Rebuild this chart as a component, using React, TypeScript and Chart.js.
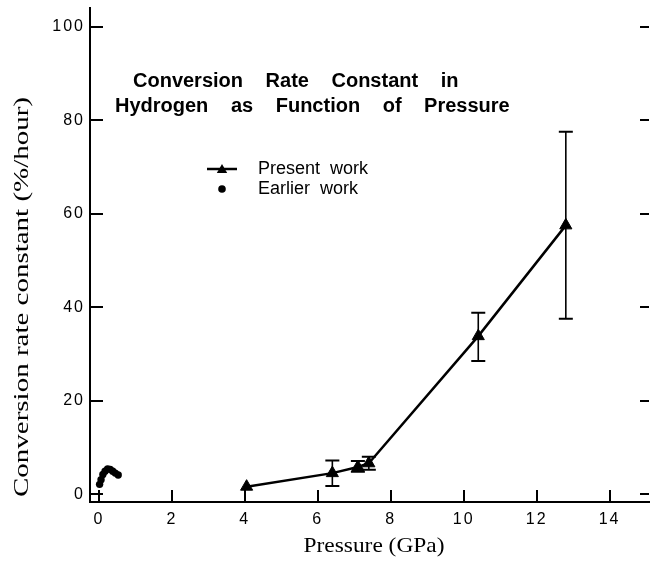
import { useEffect, useRef } from 'react';
import { Chart, registerables } from 'chart.js';

Chart.register(...registerables);

// ---- data ----
const presentPressure = [4.05, 6.4, 7.1, 7.4, 10.4, 12.8];
const presentRate = [1.6, 4.5, 5.8, 6.6, 33.8, 57.5];
const presentErrLow: (number | null)[] = [null, 1.75, 4.8, 5.2, 28.5, 37.5];
const presentErrHigh: (number | null)[] = [null, 7.2, 7.1, 8.0, 38.8, 77.5];

const earlierPressure = [0.02, 0.06, 0.11, 0.17, 0.24, 0.31, 0.38, 0.45, 0.53];
const earlierRate = [2.1, 3.1, 4.2, 4.9, 5.4, 5.3, 4.9, 4.5, 4.1];

const xTicks = [0, 2, 4, 6, 8, 10, 12, 14];
const yTicks = [0, 20, 40, 60, 80, 100];

const titleLines = ['Conversion Rate Constant in', 'Hydrogen as Function of Pressure'];
const seriesNames = ['Present work', 'Earlier work'];
const xTitle = 'Pressure (GPa)';
const yTitle = 'Conversion rate constant (%/hour)';

const SANS = '"Liberation Sans", Arial, sans-serif';
const SERIF = '"Liberation Serif", "Times New Roman", serif';

function triangle(ctx: CanvasRenderingContext2D, x: number, y: number, r: number) {
  ctx.beginPath();
  for (let k = 0; k < 3; k++) {
    const a = (k * 2 * Math.PI) / 3;
    const px = x + Math.sin(a) * r;
    const py = y - Math.cos(a) * r;
    if (k === 0) ctx.moveTo(px, py);
    else ctx.lineTo(px, py);
  }
  ctx.closePath();
  ctx.fill();
}

const annotate = {
  id: 'annotate',
  beforeDraw(chart: any) {
    (chart.ctx as any).letterSpacing = '2px';
  },
  afterDatasetsDraw(chart: any) {
    const { ctx, scales } = chart;
    const x = scales.x;
    const y = scales.y;
    ctx.save();
    ctx.strokeStyle = '#000';
    presentPressure.forEach((p, i) => {
      const lo = presentErrLow[i];
      const hi = presentErrHigh[i];
      if (lo == null || hi == null) return;
      const px = x.getPixelForValue(p);
      const yl = y.getPixelForValue(lo);
      const yh = y.getPixelForValue(hi);
      ctx.lineWidth = 1.6;
      ctx.beginPath();
      ctx.moveTo(px, yl);
      ctx.lineTo(px, yh);
      ctx.stroke();
      ctx.lineWidth = 2;
      ctx.beginPath();
      ctx.moveTo(px - 7, yl);
      ctx.lineTo(px + 7, yl);
      ctx.moveTo(px - 7, yh);
      ctx.lineTo(px + 7, yh);
      ctx.stroke();
    });
    ctx.restore();
  },
  afterDraw(chart: any) {
    const { ctx, scales, chartArea } = chart;
    const x = scales.x;
    const y = scales.y;
    const c = ctx as any;
    ctx.save();
    c.letterSpacing = '0px';
    ctx.strokeStyle = '#000';
    ctx.fillStyle = '#000';
    ctx.lineWidth = 2;
    // inward ticks
    ctx.beginPath();
    xTicks.forEach((v) => {
      const px = Math.round(x.getPixelForValue(v));
      ctx.moveTo(px, chartArea.bottom);
      ctx.lineTo(px, chartArea.bottom - 12);
    });
    yTicks.forEach((v) => {
      const py = Math.round(y.getPixelForValue(v));
      ctx.moveTo(chartArea.left, py);
      ctx.lineTo(chartArea.left + 13, py);
      ctx.moveTo(chartArea.right - 9, py);
      ctx.lineTo(chartArea.right, py);
    });
    ctx.stroke();

    // main title
    ctx.font = `bold 20px ${SANS}`;
    c.wordSpacing = '17px';
    ctx.textBaseline = 'alphabetic';
    ctx.textAlign = 'left';
    ctx.fillText(titleLines[0], 133, 87);
    ctx.fillText(titleLines[1], 115, 112);
    c.wordSpacing = '0px';

    // legend
    const lx = 222;
    const ly1 = 169;
    const ly2 = 189;
    ctx.lineWidth = 2.5;
    ctx.beginPath();
    ctx.moveTo(lx - 15, ly1);
    ctx.lineTo(lx + 15, ly1);
    ctx.stroke();
    triangle(ctx, lx, ly1 + 1, 6);
    ctx.beginPath();
    ctx.arc(lx, ly2, 3.8, 0, Math.PI * 2);
    ctx.fill();
    ctx.font = `18px ${SANS}`;
    c.wordSpacing = '5px';
    ctx.textBaseline = 'middle';
    ctx.fillText(seriesNames[0], 258, ly1);
    ctx.fillText(seriesNames[1], 258, ly2);
    c.wordSpacing = '0px';

    // x title
    ctx.font = `21px ${SERIF}`;
    ctx.textAlign = 'center';
    let w = ctx.measureText(xTitle).width;
    ctx.save();
    ctx.translate(374, 546);
    ctx.scale(141 / w, 1);
    ctx.fillText(xTitle, 0, 0);
    ctx.restore();

    // y title
    ctx.font = `21px ${SERIF}`;
    w = ctx.measureText(yTitle).width;
    ctx.save();
    ctx.translate(22, 297);
    ctx.rotate(-Math.PI / 2);
    ctx.scale(400 / w, 1);
    ctx.fillText(yTitle, 0, 0);
    ctx.restore();

    ctx.restore();
  },
};

export default function App() {
  const ref = useRef<HTMLCanvasElement>(null);
  useEffect(() => {
    const chart = new Chart(ref.current as HTMLCanvasElement, {
      type: 'scatter',
      data: {
        datasets: [
          {
            label: seriesNames[0],
            data: presentPressure.map((p, i) => ({ x: p, y: presentRate[i] })),
            showLine: true,
            borderColor: '#000',
            borderWidth: 2.5,
            pointStyle: 'triangle',
            pointRadius: 7,
            pointBackgroundColor: '#000',
            pointBorderColor: '#000',
            pointBorderWidth: 1,
          },
          {
            label: seriesNames[1],
            data: earlierPressure.map((p, i) => ({ x: p, y: earlierRate[i] })),
            showLine: false,
            pointStyle: 'circle',
            pointRadius: 3.7,
            pointBackgroundColor: '#000',
            pointBorderColor: '#000',
            pointBorderWidth: 0,
          },
        ],
      },
      options: {
        animation: false,
        responsive: false,
        devicePixelRatio: 1,
        layout: { padding: 0 },
        plugins: {
          legend: { display: false },
          tooltip: { enabled: false },
          title: { display: false },
        },
        scales: {
          x: {
            type: 'linear',
            min: -0.243,
            max: 15.08,
            afterBuildTicks: (s: any) => {
              s.ticks = xTicks.map((v) => ({ value: v }));
            },
            afterFit: (s: any) => {
              s.height = 65;
              s.paddingLeft = 0;
              s.paddingRight = 0;
            },
            grid: { display: false, drawTicks: false },
            border: { display: true, color: '#000', width: 2 },
            ticks: {
              color: '#000',
              font: { family: SANS, size: 16 },
              padding: 8,
              maxRotation: 0,
              autoSkip: false,
            },
          },
          y: {
            type: 'linear',
            min: -1.68,
            max: 104,
            afterBuildTicks: (s: any) => {
              s.ticks = yTicks.map((v) => ({ value: v }));
            },
            afterFit: (s: any) => {
              s.width = 90;
              s.paddingTop = 0;
              s.paddingBottom = 0;
            },
            grid: { display: false, drawTicks: false },
            border: { display: true, color: '#000', width: 2 },
            ticks: {
              color: '#000',
              font: { family: SANS, size: 16 },
              padding: 5,
              autoSkip: false,
            },
          },
        },
      },
      plugins: [annotate],
    } as any);
    return () => chart.destroy();
  }, []);
  return (
    <div style={{ position: 'absolute', left: 0, top: 0, width: 657, height: 567, background: '#fff' }}>
      <canvas ref={ref} width={657} height={567} style={{ display: 'block', width: 657, height: 567 }} />
    </div>
  );
}
